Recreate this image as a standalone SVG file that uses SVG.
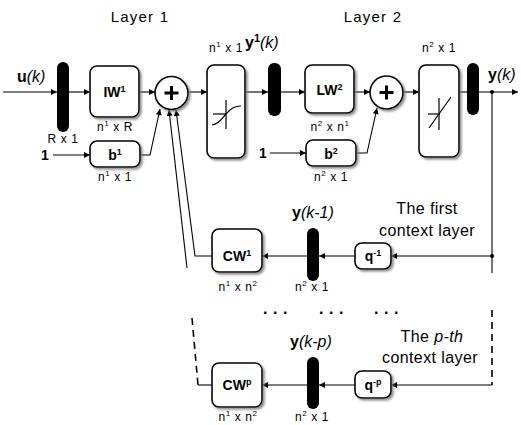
<svg xmlns="http://www.w3.org/2000/svg" width="521" height="425" viewBox="0 0 521 425">
<style>
.t{font-family:"Liberation Sans",Arial,sans-serif;fill:#000}
.lbl{font-size:14px;font-weight:bold;text-anchor:middle}
.dim{font-size:12px;text-anchor:middle;letter-spacing:0.6px}
.hdr{font-size:15px;text-anchor:middle;letter-spacing:1.2px}
.ctx{font-size:16px;text-anchor:middle;letter-spacing:0.4px}
.var{font-size:16px}
.box{fill:#fff;stroke:#000;stroke-width:1.6;filter:url(#sh)}
.bar{fill:#000}
.ln{fill:none;stroke:#000;stroke-width:1.1}
.arr{fill:none;stroke:#000;stroke-width:1.1;marker-end:url(#ah)}
.dash{fill:none;stroke:#000;stroke-width:1.6;stroke-dasharray:7,5}
.sym{fill:none;stroke:#000;stroke-width:1.2}
</style>
<defs>
<filter id="sh" x="-20%" y="-20%" width="150%" height="150%">
<feDropShadow dx="2" dy="2" stdDeviation="1" flood-color="#777" flood-opacity="0.8"/>
</filter>
<marker id="ah" viewBox="0 0 10 10" refX="10" refY="5" markerWidth="8" markerHeight="6" markerUnits="userSpaceOnUse" orient="auto">
<path d="M0,0 L10,5 L0,10 z" fill="#000"/>
</marker>
</defs>

<g id="connectors">
<line class="arr" x1="3" y1="92" x2="57" y2="92"/>
<line class="arr" x1="69" y1="92" x2="90" y2="92"/>
<line class="arr" x1="139" y1="92" x2="155" y2="92"/>
<line class="arr" x1="188" y1="92" x2="207" y2="92"/>
<line class="arr" x1="245" y1="92" x2="268" y2="92"/>
<line class="arr" x1="281" y1="92" x2="305" y2="92"/>
<line class="arr" x1="354" y1="92" x2="370" y2="92"/>
<line class="arr" x1="403" y1="92" x2="419" y2="92"/>
<line class="ln" x1="459" y1="92" x2="467" y2="92"/>
<line class="arr" x1="479" y1="92" x2="518" y2="92"/>
<line class="ln" x1="492" y1="92" x2="492" y2="273"/>
<circle cx="492" cy="92" r="2" fill="#000"/>
<circle cx="492" cy="256" r="2" fill="#000"/>
<line class="arr" x1="53" y1="155" x2="90" y2="155"/>
<polyline class="arr" points="140,155 150,155 160,109"/>
<line class="arr" x1="270" y1="153" x2="306" y2="153"/>
<polyline class="arr" points="356,153 367,153 377,108"/>
<line class="arr" x1="492" y1="256" x2="391" y2="256"/>
<line class="arr" x1="355" y1="256" x2="319" y2="256"/>
<line class="arr" x1="307" y1="256" x2="262" y2="256"/>
<polyline class="arr" points="212,256 195,256 176,110"/>
<line class="arr" x1="187" y1="268" x2="169" y2="110"/>
<line class="dash" x1="192" y1="318" x2="198" y2="385"/>
<line class="ln" x1="198" y1="385" x2="212" y2="385"/>
<line class="dash" x1="492" y1="310" x2="492" y2="385"/>
<line class="arr" x1="492" y1="385" x2="391" y2="385"/>
<line class="arr" x1="355" y1="385" x2="319" y2="385"/>
<line class="arr" x1="307" y1="385" x2="262" y2="385"/>
</g>

<g id="headers">
<text class="t hdr" x="140" y="22">Layer 1</text>
<text class="t hdr" x="373" y="22">Layer 2</text>
</g>

<g id="input">
<text class="t var" x="17" y="82"><tspan font-weight="bold">u</tspan><tspan font-style="italic">(k)</tspan></text>
<text class="t lbl" x="45" y="160" text-anchor="middle">1</text>
<text class="t lbl" x="263" y="158" text-anchor="middle">1</text>
</g>

<g id="bar1">
<rect class="bar" x="57" y="62" width="12" height="70" rx="6"/>
<text class="t dim" x="63" y="143">R x 1</text>
</g>

<g id="IW1">
<rect class="box" x="90" y="66" width="49" height="51" rx="7"/>
<text class="t lbl" x="114.5" y="97">IW<tspan font-size="9" dy="-5">1</tspan></text>
<text class="t dim" x="115" y="131">n<tspan font-size="8" dy="-5">1</tspan><tspan dy="5"> x R</tspan></text>
</g>

<g id="b1">
<rect class="box" x="90" y="141" width="50" height="26" rx="7"/>
<text class="t lbl" x="115" y="160">b<tspan font-size="9" dy="-5">1</tspan></text>
<text class="t dim" x="115" y="181">n<tspan font-size="8" dy="-5">1</tspan><tspan dy="5"> x 1</tspan></text>
</g>

<g id="sum1">
<circle cx="171.5" cy="93" r="16.5" fill="#fff" stroke="#000" stroke-width="1.6" filter="url(#sh)"/>
<path d="M164.5,93 H178.5 M171.5,86 V100" stroke="#000" stroke-width="3" fill="none"/>
</g>

<g id="tansig">
<rect class="box" x="207" y="65" width="38" height="93" rx="7"/>
<line class="sym" x1="226" y1="100" x2="226" y2="129"/>
<line class="sym" x1="213" y1="114" x2="226" y2="114"/>
<path class="sym" d="M212,125 C220,124 223,117 226,114 C229,111 232,106 241,106"/>
<text class="t dim" x="226" y="52">n<tspan font-size="8" dy="-5">1</tspan><tspan dy="5"> x 1</tspan></text>
</g>

<g id="bar2">
<rect class="bar" x="268" y="63" width="13" height="53" rx="6"/>
<text class="t var" x="245" y="48"><tspan font-weight="bold">y</tspan><tspan font-weight="bold" font-size="11" dy="-6">1</tspan><tspan font-style="italic" dy="6">(k)</tspan></text>
</g>

<g id="LW2">
<rect class="box" x="305" y="65" width="49" height="48" rx="7"/>
<text class="t lbl" x="329.5" y="95">LW<tspan font-size="9" dy="-5">2</tspan></text>
<text class="t dim" x="330" y="131">n<tspan font-size="8" dy="-5">2</tspan><tspan dy="5"> x n</tspan><tspan font-size="8" dy="-5">1</tspan></text>
</g>

<g id="b2">
<rect class="box" x="306" y="140" width="50" height="26" rx="7"/>
<text class="t lbl" x="331" y="159">b<tspan font-size="9" dy="-5">2</tspan></text>
<text class="t dim" x="331" y="181">n<tspan font-size="8" dy="-5">2</tspan><tspan dy="5"> x 1</tspan></text>
</g>

<g id="sum2">
<circle cx="386.5" cy="92.5" r="16.5" fill="#fff" stroke="#000" stroke-width="1.6" filter="url(#sh)"/>
<path d="M379.5,92.5 H393.5 M386.5,85.5 V99.5" stroke="#000" stroke-width="3" fill="none"/>
</g>

<g id="purelin">
<rect class="box" x="419" y="65" width="40" height="92" rx="7"/>
<line class="sym" x1="439" y1="98" x2="439" y2="130"/>
<line class="sym" x1="428" y1="114" x2="440" y2="114"/>
<line class="sym" x1="429" y1="128" x2="451" y2="97"/>
<text class="t dim" x="439" y="52">n<tspan font-size="8" dy="-5">2</tspan><tspan dy="5"> x 1</tspan></text>
</g>

<g id="bar3">
<rect class="bar" x="467" y="63" width="12" height="52" rx="6"/>
<text class="t var" x="488" y="80"><tspan font-weight="bold">y</tspan><tspan font-style="italic">(k)</tspan></text>
</g>

<g id="q1">
<rect class="box" x="355" y="243" width="36" height="26" rx="7"/>
<text class="t lbl" x="373" y="261">q<tspan font-size="9" dy="-5">-1</tspan></text>
</g>

<g id="barK1">
<rect class="bar" x="307" y="228" width="12" height="53" rx="6"/>
<text class="t var" x="292" y="218"><tspan font-weight="bold">y</tspan><tspan font-style="italic">(k-1)</tspan></text>
<text class="t dim" x="312" y="291">n<tspan font-size="8" dy="-5">2</tspan><tspan dy="5"> x 1</tspan></text>
</g>

<g id="CW1">
<rect class="box" x="212" y="229" width="50" height="43" rx="7"/>
<text class="t lbl" x="237" y="261">CW<tspan font-size="9" dy="-5">1</tspan></text>
<text class="t dim" x="238" y="291">n<tspan font-size="8" dy="-5">1</tspan><tspan dy="5"> x n</tspan><tspan font-size="8" dy="-5">2</tspan></text>
</g>

<g id="ctx1label">
<text class="t ctx" x="427" y="214">The first</text>
<text class="t ctx" x="427" y="236">context layer</text>
</g>

<g id="ellipsis">
<text class="t" x="263" y="314" font-size="16" font-weight="bold" letter-spacing="5.5">...</text>
<text class="t" x="319" y="314" font-size="16" font-weight="bold" letter-spacing="5.5">...</text>
<text class="t" x="374" y="314" font-size="16" font-weight="bold" letter-spacing="5.5">...</text>
</g>

<g id="qp">
<rect class="box" x="355" y="371" width="36" height="27" rx="7"/>
<text class="t lbl" x="373" y="390">q<tspan font-size="9" dy="-5">-p</tspan></text>
</g>

<g id="barKp">
<rect class="bar" x="307" y="357" width="12" height="52" rx="6"/>
<text class="t var" x="290" y="347"><tspan font-weight="bold">y</tspan><tspan font-style="italic">(k-p)</tspan></text>
<text class="t dim" x="312" y="421">n<tspan font-size="8" dy="-5">2</tspan><tspan dy="5"> x 1</tspan></text>
</g>

<g id="CWp">
<rect class="box" x="212" y="363" width="50" height="44" rx="7"/>
<text class="t lbl" x="237" y="390">CW<tspan font-size="9" dy="-5">p</tspan></text>
<text class="t dim" x="238" y="421">n<tspan font-size="8" dy="-5">1</tspan><tspan dy="5"> x n</tspan><tspan font-size="8" dy="-5">2</tspan></text>
</g>

<g id="ctxplabel">
<text class="t ctx" x="432" y="342">The <tspan font-style="italic">p-th</tspan></text>
<text class="t ctx" x="430" y="363">context layer</text>
</g>
</svg>
